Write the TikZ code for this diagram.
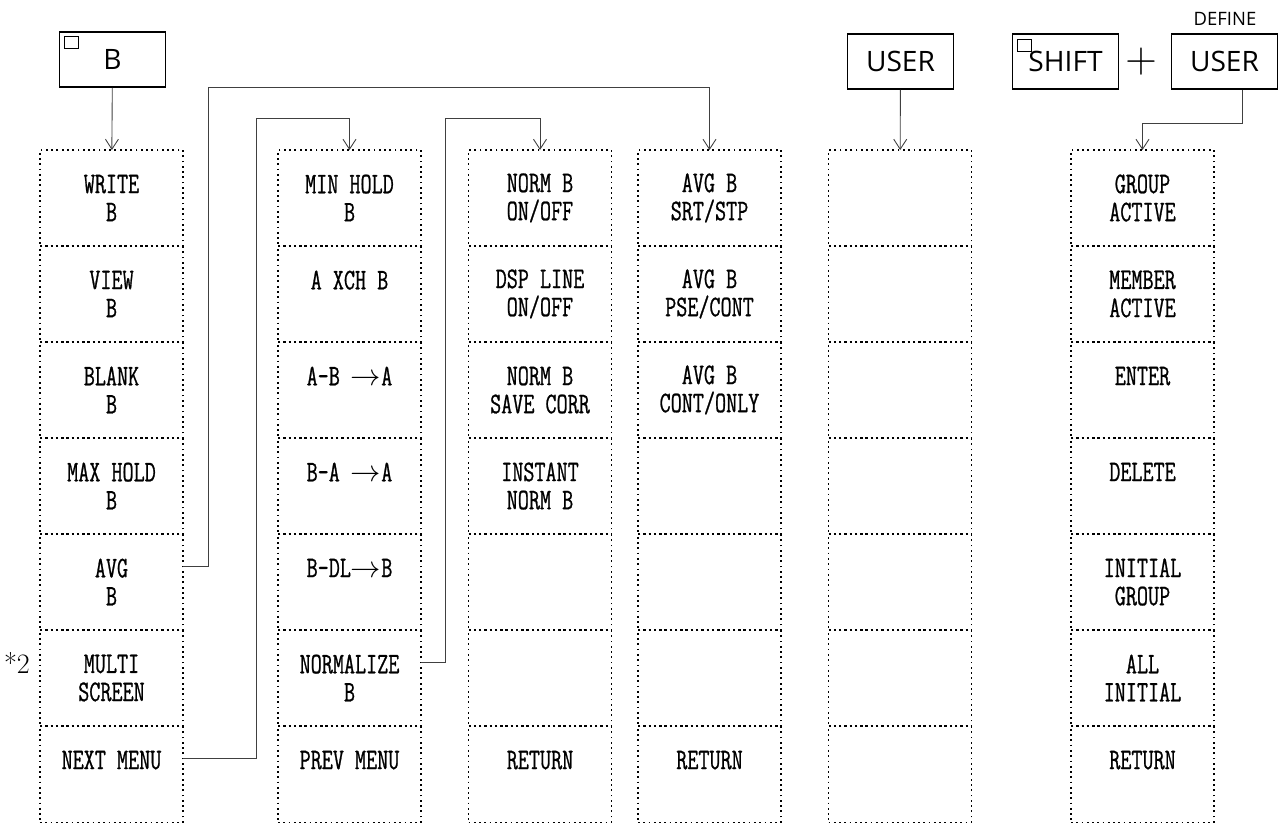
\documentclass[tikz,border=0pt]{standalone}
\usepackage{fontspec}
\setsansfont{Open Sans}
\newfontfamily\menufont[FakeStretch=0.72, FakeBold=0.8]{Latin Modern Mono}
\usetikzlibrary{arrows.meta,positioning}

\tikzset{
  key/.style={draw, line width=1.1pt, minimum width=21.2mm, minimum height=11mm, font=\sffamily\fontsize{16}{18}\selectfont},
  cell/.style={draw, dash pattern=on 1pt off 2pt, line width=0.6pt, minimum width=28.6mm, minimum height=19.2mm, outer sep=0pt, inner sep=0pt, align=center, font=\menufont\fontsize{17}{16}\selectfont},
  link/.style={draw=black!75, line width=0.5pt, -{Straight Barb[length=2mm, width=2.6mm]}},
  corner/.style={draw, line width=0.8pt, minimum width=2.8mm, minimum height=2.4mm, inner sep=0pt, anchor=north west}
}

\begin{document}
\begin{tikzpicture}[x=0.2mm, y=-0.2mm, node distance=0pt]
    \useasboundingbox (0,0) rectangle (1283,823);

    % keys
    \node[key] (keyb) at (112.5,59.5) {B};
    \node[corner] (bsq) at ([shift={(1mm,-1mm)}]keyb.north west) {};
    \node[key] (user) at (900.5,61.5) {USER};
    \node[key] (shift) at (1065.5,61.5) {SHIFT};
    \node[corner] (shiftsq) at ([shift={(1mm,-1.2mm)}]shift.north west) {};
    \node[font=\fontsize{24}{24}\selectfont] (plus) at (1141,62) {$+$};
    \node[key] (defuser) at (1224.5,61.5) {USER};
    \node[font=\sffamily\fontsize{10.5}{12}\selectfont] (define) at (1225,19) {DEFINE};
    \node[font=\fontsize{16}{16}\selectfont] (star2) at (17,663) {*2};

    % column 1
    \node[cell] (c11) at (111.5,198) {WRITE\\B};
    \node[cell, below=of c11] (c12) {VIEW\\B};
    \node[cell, below=of c12] (c13) {BLANK\\B};
    \node[cell, below=of c13] (c14) {MAX HOLD\\B};
    \node[cell, below=of c14] (c15) {AVG\\B};
    \node[cell, below=of c15] (c16) {MULTI\\SCREEN};
    \node[cell, below=of c16] (c17) {NEXT MENU\\~};

    % column 2
    \node[cell] (c21) at (349.5,198) {MIN HOLD\\B};
    \node[cell, below=of c21] (c22) {A XCH B\\~};
    \node[cell, below=of c22] (c23) {A-B $\rightarrow$A\\~};
    \node[cell, below=of c23] (c24) {B-A $\rightarrow$A\\~};
    \node[cell, below=of c24] (c25) {B-DL$\rightarrow$B\\~};
    \node[cell, below=of c25] (c26) {NORMALIZE\\B};
    \node[cell, below=of c26] (c27) {PREV MENU\\~};

    % column 3
    \node[cell] (c31) at (540,198) {NORM B\\ON/OFF};
    \node[cell, below=of c31] (c32) {DSP LINE\\ON/OFF};
    \node[cell, below=of c32] (c33) {NORM B\\SAVE CORR};
    \node[cell, below=of c33] (c34) {INSTANT\\NORM B};
    \node[cell, below=of c34] (c35) {};
    \node[cell, below=of c35] (c36) {};
    \node[cell, below=of c36] (c37) {RETURN\\~};

    % column 4
    \node[cell] (c41) at (709.5,198) {AVG B\\SRT/STP};
    \node[cell, below=of c41] (c42) {AVG B\\PSE/CONT};
    \node[cell, below=of c42] (c43) {AVG B\\CONT/ONLY};
    \node[cell, below=of c43] (c44) {};
    \node[cell, below=of c44] (c45) {};
    \node[cell, below=of c45] (c46) {};
    \node[cell, below=of c46] (c47) {RETURN\\~};

    % column 5 (user menu)
    \node[cell] (c51) at (900,198) {};
    \node[cell, below=of c51] (c52) {};
    \node[cell, below=of c52] (c53) {};
    \node[cell, below=of c53] (c54) {};
    \node[cell, below=of c54] (c55) {};
    \node[cell, below=of c55] (c56) {};
    \node[cell, below=of c56] (c57) {};

    % column 6 (define user)
    \node[cell] (c61) at (1142.5,198) {GROUP\\ACTIVE};
    \node[cell, below=of c61] (c62) {MEMBER\\ACTIVE};
    \node[cell, below=of c62] (c63) {ENTER\\~};
    \node[cell, below=of c63] (c64) {DELETE\\~};
    \node[cell, below=of c64] (c65) {INITIAL\\GROUP};
    \node[cell, below=of c65] (c66) {ALL\\INITIAL};
    \node[cell, below=of c66] (c67) {RETURN\\~};

    % connectors
    \coordinate (avgtop) at (208,87);
    \coordinate (nexttop) at (256,118);
    \coordinate (normtop) at (445,118);

    \draw[link] (keyb) -- (c11);
    \draw[link] (user) -- (c51);
    \draw[link] ([xshift=3.5mm]defuser.south) -- ++(0,33) -| (c61.north);
    \draw[link] ([yshift=3.1mm]c15.east) -| (avgtop) -| (c41.north);
    \draw[link] ([yshift=3.1mm]c17.east) -| (nexttop) -| (c21.north);
    \draw[link] ([yshift=3.1mm]c26.east) -| (normtop) -| (c31.north);
\end{tikzpicture}
\end{document}
